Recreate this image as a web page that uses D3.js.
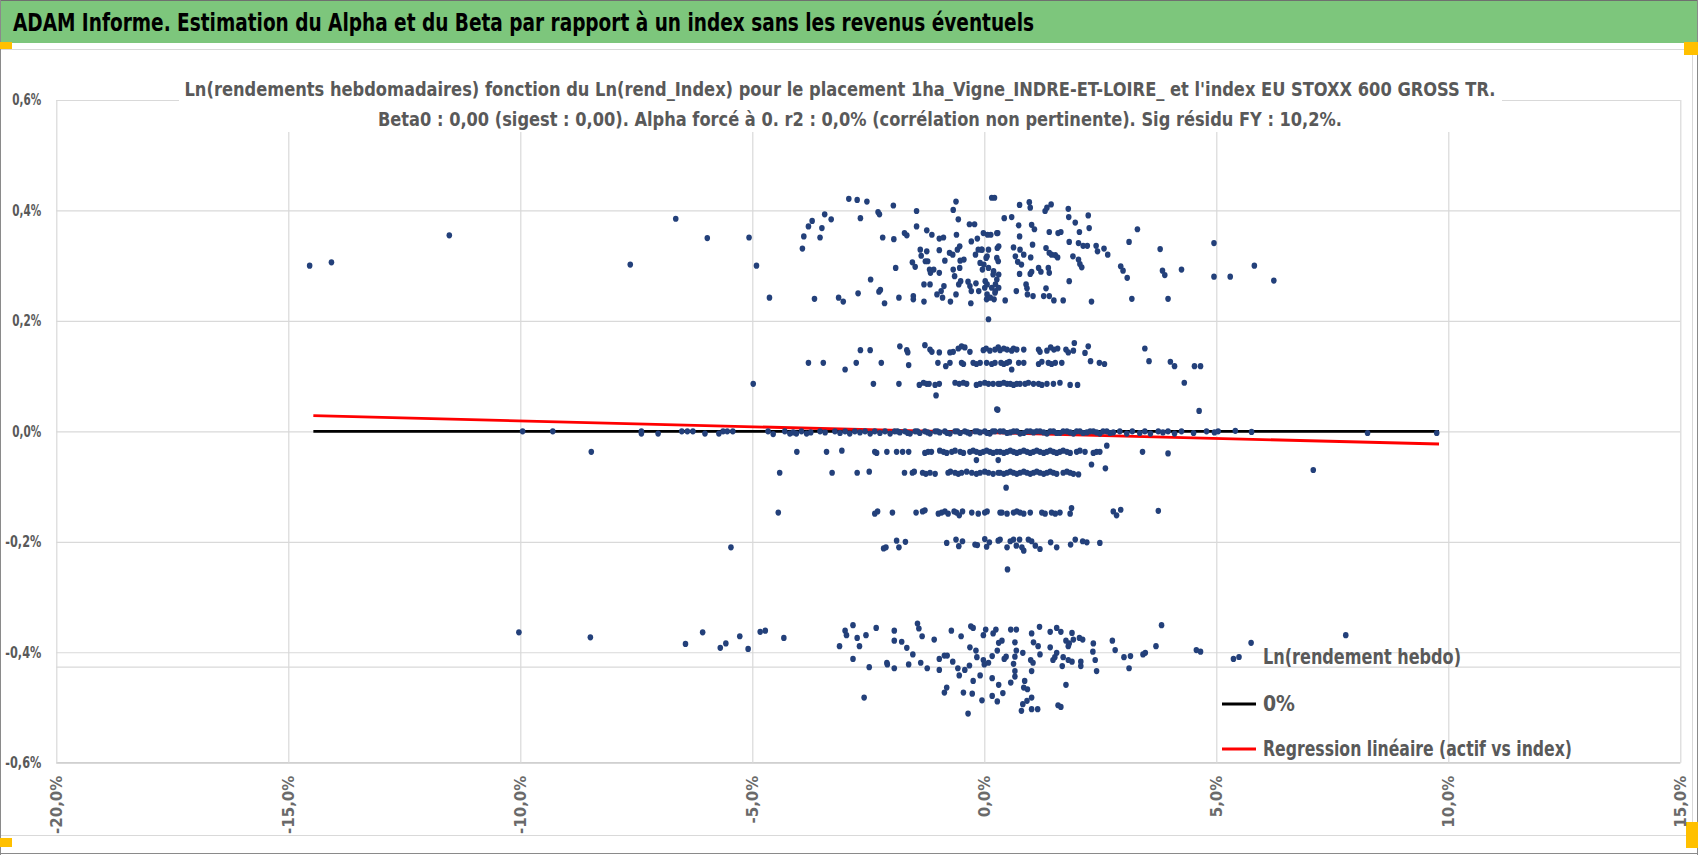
<!DOCTYPE html>
<html><head><meta charset="utf-8">
<script src="https://cdn.jsdelivr.net/npm/d3@7"></script>
<style>body{margin:0;background:#fff;} svg{display:block;}</style>
</head><body><svg id="c" width="1698" height="855"></svg>
<script>
// ---------- data (index weekly log-return %, asset weekly log-return %) ----------
const xTicks = [-20, -15, -10, -5, 0, 5, 10, 15];
const yTicks = [-0.6, -0.4, -0.2, 0, 0.2, 0.4, 0.6];
const mainTitle = "ADAM Informe. Estimation du Alpha et du Beta par rapport à un index sans les revenus éventuels";
const chartTitle1 = "Ln(rendements hebdomadaires) fonction du Ln(rend_Index) pour le placement 1ha_Vigne_INDRE-ET-LOIRE_ et l'index EU STOXX 600 GROSS TR.";
const chartTitle2 = "Beta0 : 0,00 (sigest : 0,00). Alpha forcé à 0. r2 : 0,0% (corrélation non pertinente). Sig résidu FY : 10,2%.";
const legendLabels = ["Ln(rendement hebdo)", "0%", "Regression linéaire (actif vs index)"];

const topCluster = [
[-5.07,0.351],[-4.91,0.300],[-4.63,0.242],[-3.92,0.331],[-3.89,0.353],[-3.79,0.371],[-3.71,0.381],[-3.66,0.240],[-3.54,0.351],[-3.50,0.368],[-3.44,0.393],[-3.30,0.384],[-3.14,0.242],[-3.04,0.235],[-2.92,0.421],[-2.74,0.419],[-2.67,0.386],[-2.53,0.416],[-2.72,0.250],[-2.45,0.275],[-2.29,0.397],[-2.26,0.393],[-2.27,0.253],[-2.24,0.256],[-2.19,0.351],[-2.15,0.232],[-1.96,0.409],[-1.95,0.348],[-1.91,0.296],[-1.84,0.242],[-1.72,0.359],[-1.67,0.355],[-1.55,0.306],[-1.53,0.245],[-1.53,0.239],[-1.49,0.298],[-1.46,0.399],[-1.46,0.371],[-1.38,0.329],[-1.36,0.318],[-1.30,0.266],[-1.30,0.235],[-1.27,0.308],[-1.24,0.326],[-1.24,0.364],[-1.22,0.308],[-1.18,0.293],[-1.17,0.266],[-1.16,0.287],[-1.13,0.356],[-1.09,0.293],[-1.02,0.248],[-0.97,0.349],[-0.97,0.328],[-0.97,0.287],[-0.93,0.254],[-0.90,0.242],[-0.88,0.351],[-0.87,0.263],[-0.85,0.309],[-0.75,0.323],[-0.73,0.235],[-0.68,0.320],[-0.67,0.293],[-0.67,0.401],[-0.64,0.281],[-0.61,0.416],[-0.61,0.248],[-0.60,0.356],[-0.58,0.329],[-0.56,0.384],[-0.55,0.266],[-0.53,0.335],[-0.53,0.296],[-0.52,0.309],[-0.51,0.272],[-0.44,0.311],[-0.35,0.271],[-0.32,0.375],[-0.31,0.263],[-0.29,0.232],[-0.28,0.344],[-0.28,0.254],[-0.21,0.375],[-0.19,0.320],[-0.18,0.268],[-0.15,0.349],[-0.13,0.329],[-0.12,0.254],[-0.09,0.305],[-0.06,0.329],[-0.04,0.293],[-0.02,0.359],[0.01,0.260],[0.04,0.314],[0.05,0.239],[0.06,0.266],[0.09,0.329],[0.09,0.203],[0.14,0.356],[0.16,0.423],[0.22,0.423],[0.19,0.284],[0.21,0.239],[0.23,0.251],[0.27,0.359],[0.27,0.275],[0.28,0.332],[0.30,0.308],
[0.07,0.356],[0.29,0.359],[-0.05,0.329],[0.06,0.317],[0.27,0.314],[0.31,0.335],[-0.01,0.302],[0.09,0.296],[0.20,0.290],[0.31,0.284],[0.02,0.272],[0.16,0.260],[0.24,0.266],[0.06,0.248],[0.13,0.242],[0.24,0.254],[0.31,0.260],
[0.43,0.386],[0.45,0.237],[0.59,0.388],[0.63,0.333],[0.67,0.317],[0.69,0.254],[0.72,0.307],[0.74,0.373],[0.76,0.353],[0.76,0.410],[0.77,0.329],[0.76,0.285],[0.80,0.302],[0.85,0.320],[0.90,0.266],[0.92,0.259],[0.93,0.248],[0.97,0.415],[0.99,0.405],[0.99,0.285],[1.00,0.315],[1.02,0.374],[1.02,0.289],[1.04,0.338],[1.05,0.245],[1.08,0.366],[1.17,0.296],[1.22,0.289],[1.28,0.245],[1.31,0.399],[1.33,0.332],[1.33,0.259],[1.35,0.405],[1.38,0.296],[1.40,0.361],[1.40,0.287],[1.40,0.245],[1.40,0.323],[1.44,0.411],[1.45,0.320],[1.50,0.237],[1.53,0.319],[1.58,0.315],[1.59,0.359],[1.65,0.361],[1.70,0.237],[1.81,0.403],[1.82,0.388],[1.83,0.343],[1.83,0.272],[1.91,0.317],[1.96,0.378],[2.03,0.341],[2.03,0.311],[2.05,0.361],[2.06,0.303],[2.10,0.297],[2.13,0.336],[2.22,0.336],[2.24,0.391],[2.26,0.368],[2.31,0.235],[2.41,0.336],[2.44,0.326],[2.58,0.331],[2.66,0.320],[2.94,0.299],[2.99,0.291],[3.08,0.278],[3.12,0.343],[3.18,0.240],[3.30,0.366],[3.79,0.330],[3.84,0.291],[3.89,0.283],[3.96,0.240],[4.25,0.293],[4.95,0.341],[4.95,0.280],[5.30,0.280],
[-14.54,0.300],[-14.07,0.306],[-11.53,0.355],[-7.63,0.302],[-6.65,0.385],[-5.97,0.350],[5.82,0.300],[6.24,0.273]
];

const row015 = [
[-2.67,0.147],[-2.46,0.147],[-1.82,0.154],[-1.67,0.147],[-1.65,0.143],[-1.28,0.156],[-1.17,0.148],[-1.13,0.144],[-0.97,0.143],[-0.74,0.143],[-0.67,0.144],[-0.56,0.150],[-0.49,0.154],[-0.42,0.152],[-0.31,0.144],[-0.02,0.147],[0.04,0.150],[0.12,0.146],[0.23,0.148],[0.30,0.152],
[0.34,0.147],[0.42,0.150],[0.49,0.148],[0.59,0.146],[0.63,0.150],[0.70,0.148],[0.85,0.148],[1.17,0.148],[1.20,0.144],[1.35,0.146],[1.43,0.152],[1.50,0.148],[1.58,0.150],[1.76,0.148],[1.81,0.143],[1.92,0.146],[1.94,0.160],[2.17,0.142],[2.24,0.154],[3.46,0.150]
];

const row0125 = [
[-3.79,0.124],[-3.47,0.124],[-3.00,0.112],[-2.76,0.124],[-2.22,0.124],[-1.63,0.120],[-1.00,0.124],[-0.83,0.118],[-0.74,0.124],[-0.49,0.124],[-0.45,0.122],[-0.24,0.124],[-0.17,0.122],[-0.09,0.124],[0.05,0.124],[0.16,0.122],[0.23,0.124],
[0.36,0.124],[0.42,0.122],[0.49,0.124],[0.54,0.126],[0.59,0.112],[0.74,0.124],[0.85,0.124],[1.17,0.122],[1.24,0.126],[1.38,0.124],[1.45,0.122],[1.53,0.124],[1.67,0.124],[2.29,0.127],[2.48,0.124],[2.59,0.122],[3.55,0.127],[4.01,0.126],[4.10,0.118],[4.53,0.118],[4.66,0.118]
];

const row0086 = [
[-4.98,0.086],[-2.39,0.086],[-1.84,0.086],[-1.40,0.084],[-1.31,0.088],[-1.24,0.086],[-1.19,0.086],[-1.06,0.084],[-0.97,0.086],[-0.63,0.088],[-0.54,0.086],[-0.45,0.088],[-0.38,0.086],[-0.17,0.084],[-0.09,0.086],[0.01,0.088],[0.09,0.086],[0.19,0.086],[0.30,0.086],[-1.04,0.065],[0.27,0.040],
[0.34,0.086],[0.42,0.088],[0.49,0.086],[0.56,0.086],[0.63,0.084],[0.70,0.086],[0.77,0.086],[0.88,0.086],[0.95,0.088],[1.06,0.086],[1.17,0.086],[1.24,0.084],[1.35,0.086],[1.49,0.086],[1.63,0.088],[1.85,0.084],[2.01,0.084],[4.31,0.088],[0.29,0.039],[4.63,0.037]
];

const rowZero = [
[-9.95,0],[-9.30,0],[-7.39,0],[-7.39,-0.004],[-7.03,-0.004],[-6.52,0],[-6.40,0],[-6.28,0],[-6.02,-0.004],[-5.72,-0.004],[-5.63,0],[-5.54,0],[-5.42,0],
[-4.66,0],[-4.55,-0.005],[-4.30,0],[-4.19,-0.004],[-4.12,-0.002],[-4.05,-0.004],[-3.94,0],[-3.83,-0.004],[-3.74,-0.002],[-3.54,0],[-3.43,-0.002],[-3.22,0],[-3.11,-0.003],[-3.00,0],[-2.90,-0.004],[-2.79,0],[-2.68,-0.002],[-2.57,0],[-2.46,-0.004],[-2.36,0],[-2.25,-0.003],[-2.14,0],[-2.03,-0.004],[-1.93,0],[-1.82,-0.002],[-1.71,0],[-1.60,-0.004],[-1.49,0],[-1.39,-0.003],[-1.28,0],[-1.17,-0.004],[-1.06,0],[-0.96,-0.002],[-0.85,0],[-0.74,-0.004],[-0.63,0],[-0.52,-0.003],[-0.42,0],[-0.31,-0.004],[-0.20,0],[-0.09,-0.002],[0.01,0],[0.12,-0.004],[0.23,0],
[-1.87,0],[-1.65,-0.003],[-1.44,0],[-1.22,-0.002],[-1.01,0],[-0.80,-0.003],[-0.58,0],[-0.36,-0.002],[-0.15,0],[0.06,-0.003],[0.18,0],
[0.34,0],[0.49,-0.003],[0.63,0],[0.77,-0.004],[0.92,0],[1.06,-0.002],[1.20,0],[1.35,-0.004],[1.49,0],[1.63,-0.003],[1.78,0],[1.92,-0.004],[2.06,0],[2.21,-0.002],[2.35,0],[2.49,-0.004],[2.64,0],[2.78,-0.002],[2.92,0],[3.07,-0.004],[3.19,0],[3.35,-0.003],[3.46,0],[3.58,-0.004],[3.75,0],[3.85,-0.002],[3.96,0],[4.10,-0.004],[4.25,0],[4.51,-0.003],[4.79,0],[4.96,-0.002],[5.04,0],
[0.41,0],[0.56,-0.002],[0.70,0],[0.85,-0.003],[0.99,0],[1.13,0],[1.28,-0.002],[1.42,0],[1.56,-0.003],[1.70,0],[1.85,-0.002],[1.99,0],[2.13,-0.003],[2.28,0],[2.42,-0.002],[2.56,0],[2.71,-0.003],
[5.41,0.001],[5.76,-0.001],[8.26,-0.003],[9.75,-0.003]
];

const rowM004 = [
[-4.04,-0.037],[-3.40,-0.037],[-3.07,-0.035],[-2.36,-0.037],[-2.32,-0.039],[-2.10,-0.037],[-1.89,-0.037],[-1.76,-0.037],[-1.63,-0.037],[-1.28,-0.039],[-1.21,-0.037],[-1.14,-0.037],[-0.96,-0.035],[-0.88,-0.037],[-0.81,-0.039],[-0.70,-0.037],[-0.63,-0.035],[-0.52,-0.037],[-0.45,-0.039],[-0.31,-0.037],[-0.24,-0.035],[-0.17,-0.037],[-0.09,-0.039],[-0.02,-0.037],[0.05,-0.035],[0.12,-0.037],[0.19,-0.039],[0.27,-0.037],[-0.17,-0.052],[0.30,-0.052],
[0.34,-0.037],[0.42,-0.039],[0.49,-0.037],[0.56,-0.035],[0.63,-0.037],[0.70,-0.039],[0.77,-0.037],[0.85,-0.035],[0.92,-0.037],[0.99,-0.039],[1.06,-0.037],[1.13,-0.035],[1.20,-0.037],[1.28,-0.039],[1.35,-0.037],[1.42,-0.035],[1.49,-0.037],[1.56,-0.039],[1.63,-0.037],[1.70,-0.035],[1.78,-0.037],[1.85,-0.039],[1.99,-0.037],[2.06,-0.035],[2.17,-0.037],[2.35,-0.039],[2.42,-0.037],[2.49,-0.037],[2.64,-0.026],[3.41,-0.037],[3.96,-0.040],
[-8.47,-0.037]
];

const rowM0075 = [
[-4.41,-0.075],[-3.28,-0.075],[-2.74,-0.075],[-2.48,-0.073],[-1.72,-0.075],[-1.55,-0.075],[-1.51,-0.073],[-1.33,-0.075],[-1.26,-0.077],[-1.17,-0.075],[-1.06,-0.077],[-0.78,-0.075],[-0.73,-0.073],[-0.63,-0.075],[-0.56,-0.077],[-0.49,-0.075],[-0.38,-0.073],[-0.27,-0.075],[-0.17,-0.077],[-0.09,-0.075],[0.01,-0.073],[0.09,-0.075],[0.19,-0.077],[0.30,-0.075],
[0.34,-0.075],[0.42,-0.077],[0.49,-0.075],[0.56,-0.073],[0.63,-0.075],[0.70,-0.077],[0.77,-0.075],[0.85,-0.073],[0.92,-0.075],[0.99,-0.077],[1.06,-0.075],[1.13,-0.073],[1.20,-0.075],[1.28,-0.077],[1.35,-0.075],[1.42,-0.073],[1.49,-0.075],[1.56,-0.077],[1.70,-0.075],[1.78,-0.073],[1.85,-0.075],[1.92,-0.077],[2.03,-0.078],[2.31,-0.060],[2.61,-0.067],[0.47,-0.102],
[7.09,-0.070]
];

const rowM015 = [
[-4.44,-0.147],[-2.36,-0.149],[-2.30,-0.145],[-1.98,-0.147],[-1.47,-0.147],[-1.33,-0.145],[-1.28,-0.143],[-0.99,-0.149],[-0.92,-0.147],[-0.85,-0.145],[-0.78,-0.149],[-0.65,-0.145],[-0.60,-0.147],[-0.54,-0.152],[-0.47,-0.145],[-0.27,-0.147],[-0.13,-0.149],[0.01,-0.147],[0.06,-0.145],[0.34,-0.147],
[0.38,-0.147],[0.49,-0.149],[0.63,-0.147],[0.70,-0.145],[0.77,-0.147],[0.85,-0.149],[0.99,-0.147],[1.24,-0.147],[1.31,-0.149],[1.45,-0.147],[1.53,-0.149],[1.63,-0.147],[1.85,-0.149],[1.88,-0.139],[2.78,-0.145],[2.85,-0.152],[2.94,-0.142],[3.75,-0.144]
];

const rowM020 = [
[-2.17,-0.212],[-2.12,-0.210],[-1.89,-0.198],[-1.84,-0.210],[-1.70,-0.200],[-0.81,-0.202],[-0.61,-0.196],[-0.55,-0.208],[-0.47,-0.199],[-0.20,-0.205],[-0.15,-0.206],[0.01,-0.195],[0.05,-0.209],[0.11,-0.201],[0.30,-0.198],
[0.34,-0.196],[0.49,-0.210],[0.56,-0.199],[0.63,-0.196],[0.69,-0.207],[0.76,-0.196],[0.81,-0.210],[0.85,-0.216],[0.95,-0.196],[1.02,-0.199],[1.10,-0.207],[1.20,-0.213],[1.43,-0.201],[1.56,-0.210],[1.86,-0.205],[1.96,-0.196],[2.12,-0.199],[2.21,-0.201],[2.49,-0.202],[0.50,-0.250],
[-5.46,-0.210]
];

const bottomCluster = [
[-5.27,-0.371],[-5.09,-0.394],[-4.83,-0.363],[-4.72,-0.361],[-4.32,-0.374],[-3.12,-0.389],[-3.00,-0.361],[-2.97,-0.369],[-2.83,-0.351],[-2.83,-0.412],[-2.74,-0.374],[-2.69,-0.389],[-2.59,-0.482],[-2.55,-0.369],[-2.48,-0.427],[-2.33,-0.356],[-2.10,-0.419],[-2.09,-0.422],[-1.94,-0.361],[-1.94,-0.379],[-1.94,-0.429],[-1.78,-0.381],[-1.67,-0.392],[-1.63,-0.422],[-1.54,-0.404],[-1.44,-0.348],[-1.41,-0.357],[-1.37,-0.419],[-1.34,-0.371],[-1.23,-0.429],[-1.08,-0.377],[-0.97,-0.412],[-0.97,-0.432],[-0.86,-0.406],[-0.80,-0.406],[-0.86,-0.473],[-0.81,-0.464],[-0.71,-0.361],[-0.68,-0.417],[-0.57,-0.429],[-0.54,-0.442],[-0.50,-0.371],[-0.45,-0.473],[-0.42,-0.432],[-0.35,-0.511],[-0.32,-0.424],[-0.31,-0.391],[-0.29,-0.353],[-0.24,-0.356],[-0.26,-0.475],[-0.24,-0.452],[-0.18,-0.397],[-0.16,-0.409],[-0.09,-0.442],[-0.05,-0.487],[-0.02,-0.369],[-0.02,-0.414],[0.00,-0.422],[0.03,-0.359],[0.09,-0.419],[0.17,-0.447],[0.17,-0.479],[0.17,-0.407],[0.19,-0.366],[0.25,-0.359],[0.28,-0.489],[0.28,-0.397],[0.31,-0.459],[0.31,-0.383],
[0.38,-0.379],[0.40,-0.474],[0.47,-0.408],[0.43,-0.412],[0.57,-0.359],[0.69,-0.359],[0.66,-0.382],[0.69,-0.397],[0.66,-0.408],[0.63,-0.421],[0.66,-0.434],[0.66,-0.444],[0.57,-0.455],[0.83,-0.401],[0.87,-0.452],[0.85,-0.464],[0.93,-0.467],[0.92,-0.488],[0.83,-0.494],[0.80,-0.506],[1.02,-0.482],[1.02,-0.503],[1.15,-0.503],[1.02,-0.366],[1.06,-0.382],[1.00,-0.414],[1.05,-0.419],[1.02,-0.434],[1.19,-0.354],[1.16,-0.389],[1.20,-0.404],[1.42,-0.363],[1.42,-0.391],[1.48,-0.414],[1.52,-0.409],[1.56,-0.401],[1.56,-0.356],[1.65,-0.363],[1.59,-0.496],[1.65,-0.499],[1.68,-0.425],[1.70,-0.409],[1.76,-0.459],[1.76,-0.379],[1.81,-0.389],[1.83,-0.384],[1.81,-0.414],[1.89,-0.365],[1.92,-0.377],[1.89,-0.417],[2.05,-0.374],[2.12,-0.377],[2.08,-0.417],[2.08,-0.425],[2.35,-0.384],[2.34,-0.399],[2.39,-0.414],[2.42,-0.434],[2.76,-0.379],[2.82,-0.396],[3.01,-0.409],[3.15,-0.407],[3.12,-0.429],[3.42,-0.404],[3.47,-0.401],[3.70,-0.389],[3.82,-0.351],[4.57,-0.396],[4.66,-0.399],[5.37,-0.412],[5.75,-0.383],
[-10.03,-0.364],[-8.49,-0.373],[-6.44,-0.385],[-6.07,-0.364],[-5.69,-0.392],[-5.57,-0.384],[7.79,-0.369]
];

const zeroLine = [[-14.46, 0], [9.80, 0]];
const regressionLine = [[-14.46, 0.0283], [9.80, -0.0229]];
const extraRule = [-0.427];

// ---------- drawing ----------
const W = 1698, H = 855;
const NARROW = "'Liberation Sans Narrow','DejaVu Sans Condensed','Arial Narrow',sans-serif";
const svg = d3.select("#c");
svg.append("rect").attr("width", W).attr("height", H).attr("fill", "#fff");

// header band
svg.append("rect").attr("x", 0).attr("y", 0).attr("width", W).attr("height", 43).attr("fill", "#7DC67C");
svg.append("line").attr("x1", 0).attr("x2", W).attr("y1", 0.5).attr("y2", 0.5).attr("stroke", "#6f6f6f");
svg.append("text").attr("x", 13).attr("y", 31).text(mainTitle)
  .attr("font-family", NARROW).attr("font-weight", "bold").attr("font-size", 24).attr("fill", "#000")
  .attr("textLength", 1021).attr("lengthAdjust", "spacingAndGlyphs");

// chart area
svg.append("rect").attr("x", 0.5).attr("y", 49.5).attr("width", 1692).attr("height", 786)
  .attr("fill", "#fff").attr("stroke", "#d9d9d9");
svg.append("line").attr("x1", 0).attr("x2", W).attr("y1", 853.5).attr("y2", 853.5).attr("stroke", "#8a8a8a");
svg.append("line").attr("x1", 0.5).attr("x2", 0.5).attr("y1", 0).attr("y2", H).attr("stroke", "#8a8a8a");
svg.append("line").attr("x1", W - 0.5).attr("x2", W - 0.5).attr("y1", 0).attr("y2", H).attr("stroke", "#8a8a8a");

// handles
const handles = [[0, 42, 12, 7], [1684, 42, 14, 13], [0, 838, 12, 9], [1686, 822, 12, 26]];
svg.selectAll("rect.h").data(handles).join("rect").attr("class", "h")
  .attr("x", d => d[0]).attr("y", d => d[1]).attr("width", d => d[2]).attr("height", d => d[3]).attr("fill", "#FFC000");

const x = d3.scaleLinear().domain([-20, 15]).range([56.3, 1680.3]);
const y = d3.scaleLinear().domain([-0.6, 0.6]).range([762.7, 100]);
const plotW = x(15) - x(-20), plotH = y(-0.6) - y(0.6);

const fmtX = v => d3.format(".1f")(v).replace("−", "-").replace(".", ",") + "%";
const fmtY = v => d3.format(".1f")(v).replace("−", "-").replace(".", ",") + "%";

// y axis with gridlines
const gy = svg.append("g").attr("transform", `translate(${x(-20)},0)`)
  .call(d3.axisLeft(y).tickValues(yTicks).tickSize(-plotW).tickPadding(15).tickFormat(fmtY));
gy.select(".domain").remove();
gy.selectAll("line").attr("stroke", "#d9d9d9").attr("stroke-width", 1.2);
gy.selectAll("text").attr("font-family", NARROW).attr("font-weight", "bold").attr("font-size", 15).attr("fill", "#595959")
  .attr("textLength", d => d < 0 ? 36 : 29).attr("lengthAdjust", "spacingAndGlyphs");

// x axis with gridlines
const gx = svg.append("g").attr("transform", `translate(0,${y(-0.6)})`)
  .call(d3.axisBottom(x).tickValues(xTicks).tickSize(-plotH).tickFormat(fmtX));
gx.select(".domain").attr("stroke", "#d0d0d0").attr("stroke-width", 1.5).attr("d", `M${x(-20)},0H${x(15)}`);
gx.selectAll("line").attr("stroke", "#d9d9d9").attr("stroke-width", 1.2);
gx.selectAll("text")
  .attr("font-family", "'DejaVu Sans',sans-serif").attr("font-weight", "bold").attr("font-size", 15)
  .attr("fill", "#6a6a6a").attr("text-anchor", "end")
  .attr("transform", "translate(0,13) rotate(-90)").attr("x", 0).attr("y", 0).attr("dy", "0.36em");

// extra rule
svg.selectAll("line.extra").data(extraRule).join("line").attr("class", "extra")
  .attr("x1", x(-20)).attr("x2", x(15)).attr("y1", d => y(d)).attr("y2", d => y(d))
  .attr("stroke", "#d9d9d9").attr("stroke-width", 1.2);

// chart title (white box behind)
const tbox = svg.append("g");
tbox.append("rect").attr("x", 179).attr("y", 68).attr("width", 1323).attr("height", 64).attr("fill", "#fff");
tbox.append("text").attr("x", 840).attr("y", 96).attr("text-anchor", "middle").text(chartTitle1)
  .attr("font-family", NARROW).attr("font-weight", "bold").attr("font-size", 20).attr("fill", "#595959")
  .attr("textLength", 1311).attr("lengthAdjust", "spacingAndGlyphs");
tbox.append("text").attr("x", 860).attr("y", 126).attr("text-anchor", "middle").text(chartTitle2)
  .attr("font-family", NARROW).attr("font-weight", "bold").attr("font-size", 20).attr("fill", "#595959")
  .attr("textLength", 964).attr("lengthAdjust", "spacingAndGlyphs");

// lines
const line = d3.line().x(d => x(d[0])).y(d => y(d[1]));
svg.append("path").attr("d", line(zeroLine)).attr("stroke", "#000").attr("stroke-width", 2.8).attr("fill", "none");
svg.append("path").attr("d", line(regressionLine)).attr("stroke", "#FF0000").attr("stroke-width", 2.8).attr("fill", "none");

// points
const allPoints = [].concat(topCluster, row015, row0125, row0086, rowZero, rowM004, rowM0075, rowM015, rowM020, bottomCluster);
svg.append("g").selectAll("ellipse").data(allPoints).join("ellipse")
  .attr("cx", d => x(d[0])).attr("cy", d => y(d[1])).attr("rx", 2.8).attr("ry", 3.1)
  .attr("fill", "#23407A");

// legend
const lg = svg.append("g");
const legY = [657, 704, 749];
const symX0 = 1222, symX1 = 1256, txtX = 1263;
lg.append("ellipse").attr("cx", (symX0 + symX1) / 2).attr("cy", legY[0]).attr("rx", 2.8).attr("ry", 3.1).attr("fill", "#23407A");
lg.append("line").attr("x1", symX0).attr("x2", symX1).attr("y1", legY[1]).attr("y2", legY[1]).attr("stroke", "#000").attr("stroke-width", 2.8);
lg.append("line").attr("x1", symX0).attr("x2", symX1).attr("y1", legY[2]).attr("y2", legY[2]).attr("stroke", "#FF0000").attr("stroke-width", 2.8);
const legLens = [198, 32, 309];
legendLabels.forEach((t, i) => {
  lg.append("text").attr("x", txtX).attr("y", legY[i]).attr("dy", "0.35em").text(t)
    .attr("font-family", NARROW).attr("font-weight", "bold").attr("font-size", 21).attr("fill", "#595959")
    .attr("textLength", legLens[i]).attr("lengthAdjust", "spacingAndGlyphs");
});
</script>
</body></html>
